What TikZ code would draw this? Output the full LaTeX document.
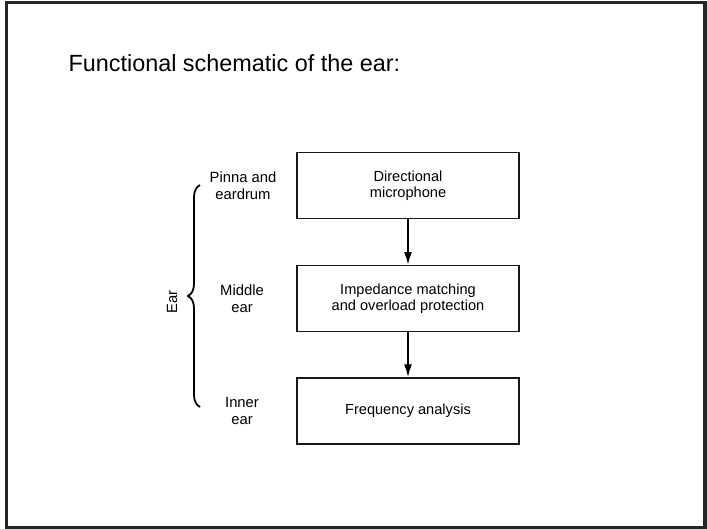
\documentclass[tikz,border=0pt]{standalone}
\usepackage{fontspec}
\setmainfont{Liberation Sans}
\usetikzlibrary{arrows.meta, positioning, decorations.pathreplacing}

\begin{document}
\begin{tikzpicture}[x=1pt, y=-1pt,
  block/.style={draw=black!90, line width=1.3pt, minimum width=222pt, minimum height=66pt, align=center, font=\fontsize{14.6}{16.5}\selectfont},
  side/.style={align=center, font=\fontsize{14.8}{16.5}\selectfont},
  flow/.style={-{Latex[length=13pt, width=8pt]}, line width=2pt}]
  \useasboundingbox (0,0) rectangle (707,529);
  \draw[line width=3.2pt, black!85] (6.5,2.5) rectangle (705,527.5);

  \node[anchor=base west, font=\fontsize{23.4}{28}\selectfont] (title) at (65,72) {Functional schematic of the ear:};

  % the three stages
  \node[block] (mic) at (408,185.5) {Directional\\microphone};
  \node[block, below=46pt of mic] (imp) {Impedance matching\\and overload protection};
  \node[block, below=45pt of imp] (freq) {Frequency analysis};
  \draw[flow] (mic) -- (imp);
  \draw[flow] (imp) -- (freq);

  % parts of the ear
  \node[side] (pinna) at (243,0 |- mic) {Pinna and\\eardrum};
  \node[side] (middle) at (242,0 |- imp) {Middle\\ear};
  \node[side] (inner) at (242,0 |- freq) {Inner\\ear};

  \coordinate (btop) at (200,185);
  \coordinate (bbot) at (200,407);
  \draw[decorate, decoration={brace, amplitude=12pt}, line width=1.8pt] (bbot) -- (btop);
  \node[side, rotate=90] (ear) at (172,302) {Ear};
\end{tikzpicture}
\end{document}
